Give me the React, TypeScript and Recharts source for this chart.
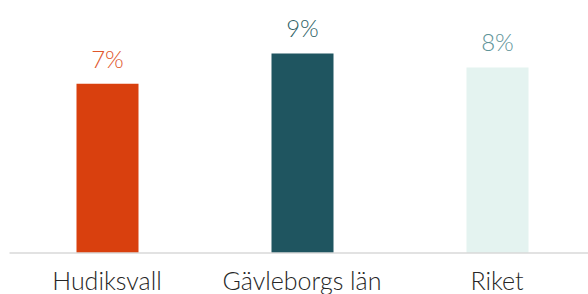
import { BarChart, Bar, XAxis, YAxis, Cell, LabelList } from 'recharts';

const categories = ['Hudiksvall', 'Gävleborgs län', 'Riket'];
const values = [7.3, 8.6, 8.0];
const barColors = ['#D9400E', '#1F5560', '#E4F3F0'];
const labelColors = ['#E0562B', '#2E5F66', '#5E9499'];

const data = categories.map((name, i) => ({ name, value: values[i] }));

const FONT = 'Lato, "Open Sans", sans-serif';

function renderTick({ x, y, payload }: { x: number; y: number; payload: { value: string } }) {
  return (
    <text x={x} y={y + 29} textAnchor="middle" fill="#262626" fontSize={25} fontFamily={FONT} fontWeight={300}>
      {payload.value}
    </text>
  );
}

function renderLabel(props: any) {
  const { x, y, width, index, value } = props;
  return (
    <text
      x={x + width / 2}
      y={y - 16}
      textAnchor="middle"
      fill={labelColors[index]}
      fontSize={24}
      fontFamily={FONT}
      fontWeight={300}
    >
      {Math.round(value)}%
    </text>
  );
}

export default function App() {
  return (
    <div style={{ position: 'absolute', left: 0, top: 0, width: 588, height: 294, overflow: 'hidden', background: '#fff' }}>
      <BarChart width={600} height={294} data={data} margin={{ top: 21, right: 5.5, left: 9.5, bottom: 0 }}>
        <XAxis
          dataKey="name"
          height={41}
          tickLine={false}
          axisLine={{ stroke: '#d9d9d9', strokeWidth: 1.5 }}
          tick={renderTick}
          interval={0}
        />
        <YAxis hide domain={[0, 10]} />
        <Bar dataKey="value" barSize={62} isAnimationActive={false}>
          {data.map((d, i) => (
            <Cell key={d.name} fill={barColors[i]} />
          ))}
          <LabelList dataKey="value" content={renderLabel} />
        </Bar>
      </BarChart>
    </div>
  );
}
